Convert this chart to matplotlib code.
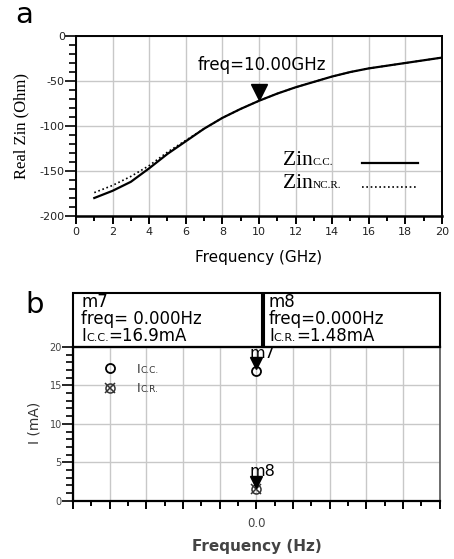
import matplotlib
matplotlib.use("Agg")
import matplotlib.pyplot as plt
from matplotlib.patches import Rectangle
from matplotlib.transforms import offset_copy
from matplotlib.ticker import MultipleLocator, FuncFormatter

plt.rcParams['axes.unicode_minus'] = False
plt.rcParams['font.family'] = 'DejaVu Sans'

# panel a: real part of input impedance vs frequency
freq_ghz = [1, 2, 3, 4, 5, 6, 7, 8, 9, 10, 11, 12, 13, 14, 15, 16, 17, 18, 19, 20]
zin_cc = [-180, -172, -162, -147, -131, -117, -103, -91, -81, -72,
          -64, -57, -51, -45, -40, -36, -33, -30, -27, -24]
zin_ncr = [-174, -166, -156, -144, -129, -116, -103, -91, -81, -72,
           -64, -57, -51, -45, -40, -36, -33, -30, -27, -24]
marker_freq = 10.0
marker_zin = -72.0

# panel b: DC currents
dc_freq = [0.0]
i_cc = [16.9]
i_cr = [1.48]

GRID = '#c8c8c8'
SERIF = 'Liberation Serif'

fig = plt.figure(figsize=(4.54, 5.59), dpi=100)
renderer = fig.canvas.get_renderer()


def chain_text(ax, x, y, pieces, **kw):
    # write pieces one after the other on a common baseline (for small-caps subscripts)
    dx = 0
    for s, size in pieces:
        tr = offset_copy(ax.transAxes, fig=fig, x=dx, y=0, units='dots')
        t = ax.text(x, y, s, fontsize=size, transform=tr, ha='left', va='baseline',
                    clip_on=False, **kw)
        dx += t.get_window_extent(renderer).width


# ---------------- panel a ----------------
ax1 = fig.add_axes([0.1674, 0.6136, 0.806, 0.322])
ax1.plot(freq_ghz, zin_cc, color='k', lw=1.6)
ax1.plot(freq_ghz, zin_ncr, color='k', lw=1.2, ls=(0, (1, 1.6)))
ax1.plot([marker_freq], [marker_zin], ls='none', marker='v', ms=11, color='k',
         transform=offset_copy(ax1.transData, fig=fig, y=6, units='points'))
ax1.annotate('freq=10.00GHz', xy=(marker_freq, marker_zin), xytext=(2, 26),
             textcoords='offset points', ha='center', va='center', fontsize=12)

ax1.set_xlim(0, 20)
ax1.set_ylim(-200, 0)
ax1.xaxis.set_major_locator(MultipleLocator(2))
ax1.xaxis.set_minor_locator(MultipleLocator(1))
ax1.yaxis.set_major_locator(MultipleLocator(50))
ax1.yaxis.set_minor_locator(MultipleLocator(10))
ax1.grid(which='major', color=GRID, lw=1)
ax1.tick_params(axis='x', which='major', direction='out', length=6, width=1.4,
                labelsize=8, pad=2, labelcolor='#222')
ax1.tick_params(axis='x', which='minor', direction='out', length=3.5, width=1.4)
ax1.tick_params(axis='y', which='major', direction='out', length=8, width=1.2,
                labelsize=8, pad=0, labelcolor='#222')
ax1.tick_params(axis='y', which='minor', direction='out', length=5, width=1.2)
for sp in ax1.spines.values():
    sp.set_linewidth(1.4)
ax1.spines['bottom'].set_linewidth(1.8)

ax1.set_xlabel('Frequency (GHz)', fontsize=11)
ax1.xaxis.set_label_coords(0.5, -0.19)
ax1.set_ylabel('Real Zin (Ohm)', fontsize=12, family=SERIF)
ax1.yaxis.set_label_coords(-0.128, 0.5)

# legend: label first, line sample after
chain_text(ax1, 0.566, 0.283, [('Zin', 15.5), ('C.C.', 8)], family=SERIF)
chain_text(ax1, 0.566, 0.155, [('Zin', 15.5), ('NC.R.', 8)], family=SERIF)
ax1.plot([0.781, 0.934], [0.294, 0.294], color='k', lw=1.6, transform=ax1.transAxes)
ax1.plot([0.781, 0.934], [0.161, 0.161], color='k', lw=1.2, ls=(0, (1, 1.6)),
         transform=ax1.transAxes)

fig.text(15 / 454, 1 - 23 / 559, 'a', fontsize=21, ha='left', va='baseline')

# ---------------- panel b ----------------
ax2 = fig.add_axes([0.1608, 0.1043, 0.808, 0.275])
ax2.set_xlim(-5, 5)
ax2.set_ylim(0, 20)
ax2.xaxis.set_major_locator(MultipleLocator(1))
ax2.xaxis.set_minor_locator(MultipleLocator(0.5))
ax2.xaxis.set_major_formatter(FuncFormatter(lambda v, p: '0.0' if abs(v) < 1e-9 else ''))
ax2.yaxis.set_major_locator(MultipleLocator(5))
ax2.yaxis.set_minor_locator(MultipleLocator(1))
ax2.grid(which='major', color=GRID, lw=1)
ax2.tick_params(axis='x', which='major', direction='out', length=6, width=1.4,
                labelsize=8.5, pad=6, labelcolor='#444')
ax2.tick_params(axis='x', which='minor', direction='out', length=3.5, width=1.4)
ax2.tick_params(axis='y', which='major', direction='out', length=8, width=1.2,
                labelsize=7, pad=0, labelcolor='#444')
ax2.tick_params(axis='y', which='minor', direction='out', length=5, width=1.2)
for sp in ax2.spines.values():
    sp.set_linewidth(1.6)
ax2.spines['right'].set_color('#555')
ax2.spines['right'].set_linewidth(1.2)

ax2.plot(dc_freq, i_cc, ls='none', marker='o', ms=6.5, mfc='none', mec='k', mew=1.3)
ax2.plot(dc_freq, i_cr, ls='none', marker='o', ms=6.5, mfc='none', mec='#333', mew=1.1)
ax2.plot(dc_freq, i_cr, ls='none', marker='x', ms=6.5, mec='#333', mew=1.1)
tri = offset_copy(ax2.transData, fig=fig, y=5.5, units='points')
ax2.plot(dc_freq, i_cc, ls='none', marker='v', ms=8, color='k', transform=tri)
ax2.plot(dc_freq, i_cr, ls='none', marker='v', ms=8, color='k', transform=tri)
ax2.annotate('m7', xy=(dc_freq[0], i_cc[0]), xytext=(4, 9.5), textcoords='offset points',
             ha='center', va='baseline', fontsize=11.5, annotation_clip=False)
ax2.annotate('m8', xy=(dc_freq[0], i_cr[0]), xytext=(4, 9.5), textcoords='offset points',
             ha='center', va='baseline', fontsize=11.5, annotation_clip=False)

ax2.set_xlabel('Frequency (Hz)', fontsize=11, fontweight='bold', color='#444')
ax2.xaxis.set_label_coords(0.5, -0.25)
ax2.set_ylabel('I (mA)', fontsize=10, color='#333')
ax2.yaxis.set_label_coords(-0.087, 0.505)

# marker readout boxes above the plot
for x0, w in [(0, 0.515), (0.52, 0.48)]:
    ax2.add_patch(Rectangle((x0, 1), w, 0.351, transform=ax2.transAxes, fc='white',
                            ec='k', lw=1.5, clip_on=False))
for x0, name, val, sub in [(0.022, 'm7', '=16.9mA', 'C.C.'), (0.534, 'm8', '=1.48mA', 'C.R.')]:
    ax2.text(x0, 1.26, name, transform=ax2.transAxes, fontsize=12, va='baseline')
    ax2.text(x0, 1.15, 'freq= 0.000Hz' if name == 'm7' else 'freq=0.000Hz',
             transform=ax2.transAxes, fontsize=12, va='baseline')
    chain_text(ax2, x0, 1.039, [('I', 12), (sub, 8), (val, 12)])

# legend
ax2.plot([0.1], [0.86], ls='none', marker='o', ms=6.5, mfc='none', mec='k', mew=1.3,
         transform=ax2.transAxes, clip_on=False)
ax2.plot([0.1], [0.735], ls='none', marker='o', ms=6.5, mfc='none', mec='#333', mew=1.1,
         transform=ax2.transAxes)
ax2.plot([0.1], [0.735], ls='none', marker='x', ms=6.5, mec='#333', mew=1.1,
         transform=ax2.transAxes)
chain_text(ax2, 0.174, 0.83, [('I', 9), ('C.C.', 6.5)], color='#333')
chain_text(ax2, 0.174, 0.707, [('I', 9), ('C.R.', 6.5)], color='#333')

fig.text(25 / 454, 1 - 313 / 559, 'b', fontsize=21, ha='left', va='baseline')

fig.savefig('out.png', dpi=100)
